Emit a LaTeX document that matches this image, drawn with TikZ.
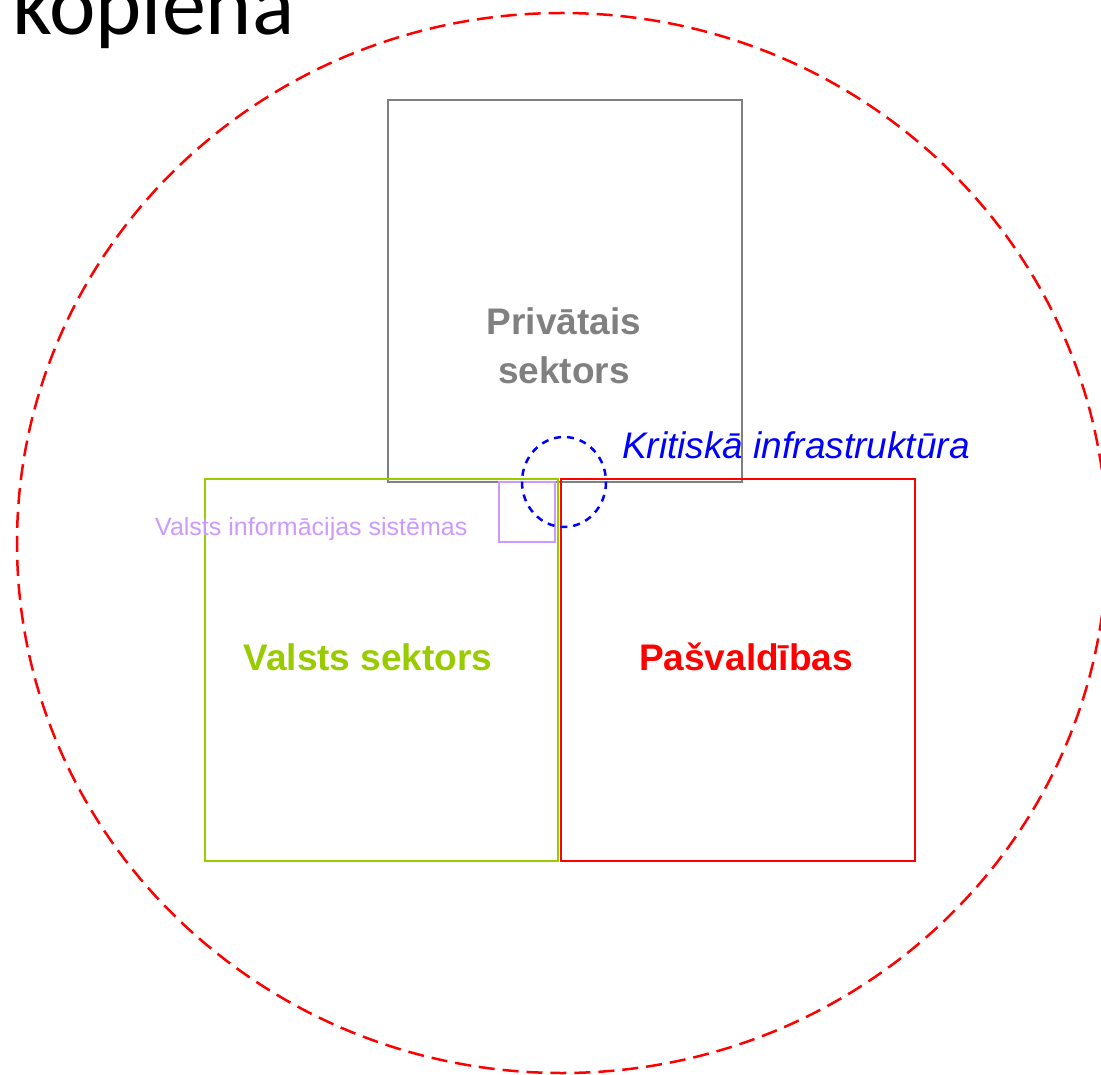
\documentclass[tikz,border=0pt]{standalone}
\usepackage{fontspec}
\setmainfont{Liberation Sans}
\newfontfamily\calfont{Carlito}
\definecolor{cgray}{HTML}{808080}
\definecolor{cgreen}{HTML}{99CC00}
\definecolor{cred}{HTML}{FF0000}
\definecolor{cpurple}{HTML}{CC99FF}
\definecolor{cblue}{HTML}{0000FF}
\tikzset{
  box/.style={line width=2.5pt},
  big/.style={font=\fontsize{37}{49}\selectfont\bfseries, inner sep=0pt},
}
\begin{document}
\begin{tikzpicture}[x=1pt,y=-1pt]
\useasboundingbox (0,0) rectangle (1101,1075);
% outer community ellipse
\draw[cred, line width=2.5pt, dash pattern=on 16pt off 8pt] (562,543) ellipse [x radius=545, y radius=530];
\node[anchor=base west, inner sep=0pt, font=\calfont\fontsize{88}{88}\selectfont] (kop) at (12,35) {kopiena};
% boxes
\draw[box, cgray] (388,100) rectangle (742,482);
\draw[box, cgreen] (205,479) rectangle (558,861);
\draw[box, cred] (561,479) rectangle (915,861);
\draw[box, cpurple] (499,482) rectangle (555,542);
\draw[cblue, line width=2.5pt, dash pattern=on 7pt off 6pt] (564,482) ellipse [x radius=42, y radius=45];
% labels
\node[big, text=cgray, anchor=base] (priv1) at (564,335) {Privātais};
\node[big, text=cgray, anchor=base] (priv2) at (564,384) {sektors};
\node[big, text=cgreen, anchor=base] (valsts) at (368,670) {Valsts sektors};
\node[big, text=cred, anchor=base] (pasv) at (746,670) {Pašvaldības};
\node[inner sep=0pt, anchor=base west, text=cblue, font=\fontsize{37}{37}\selectfont\itshape] (krit) at (622,458) {Kritiskā infrastruktūra};
\node[inner sep=0pt, anchor=base west, text=cpurple, font=\fontsize{25}{25}\selectfont] (vis) at (155,535) {Valsts informācijas sistēmas};
\end{tikzpicture}
\end{document}
